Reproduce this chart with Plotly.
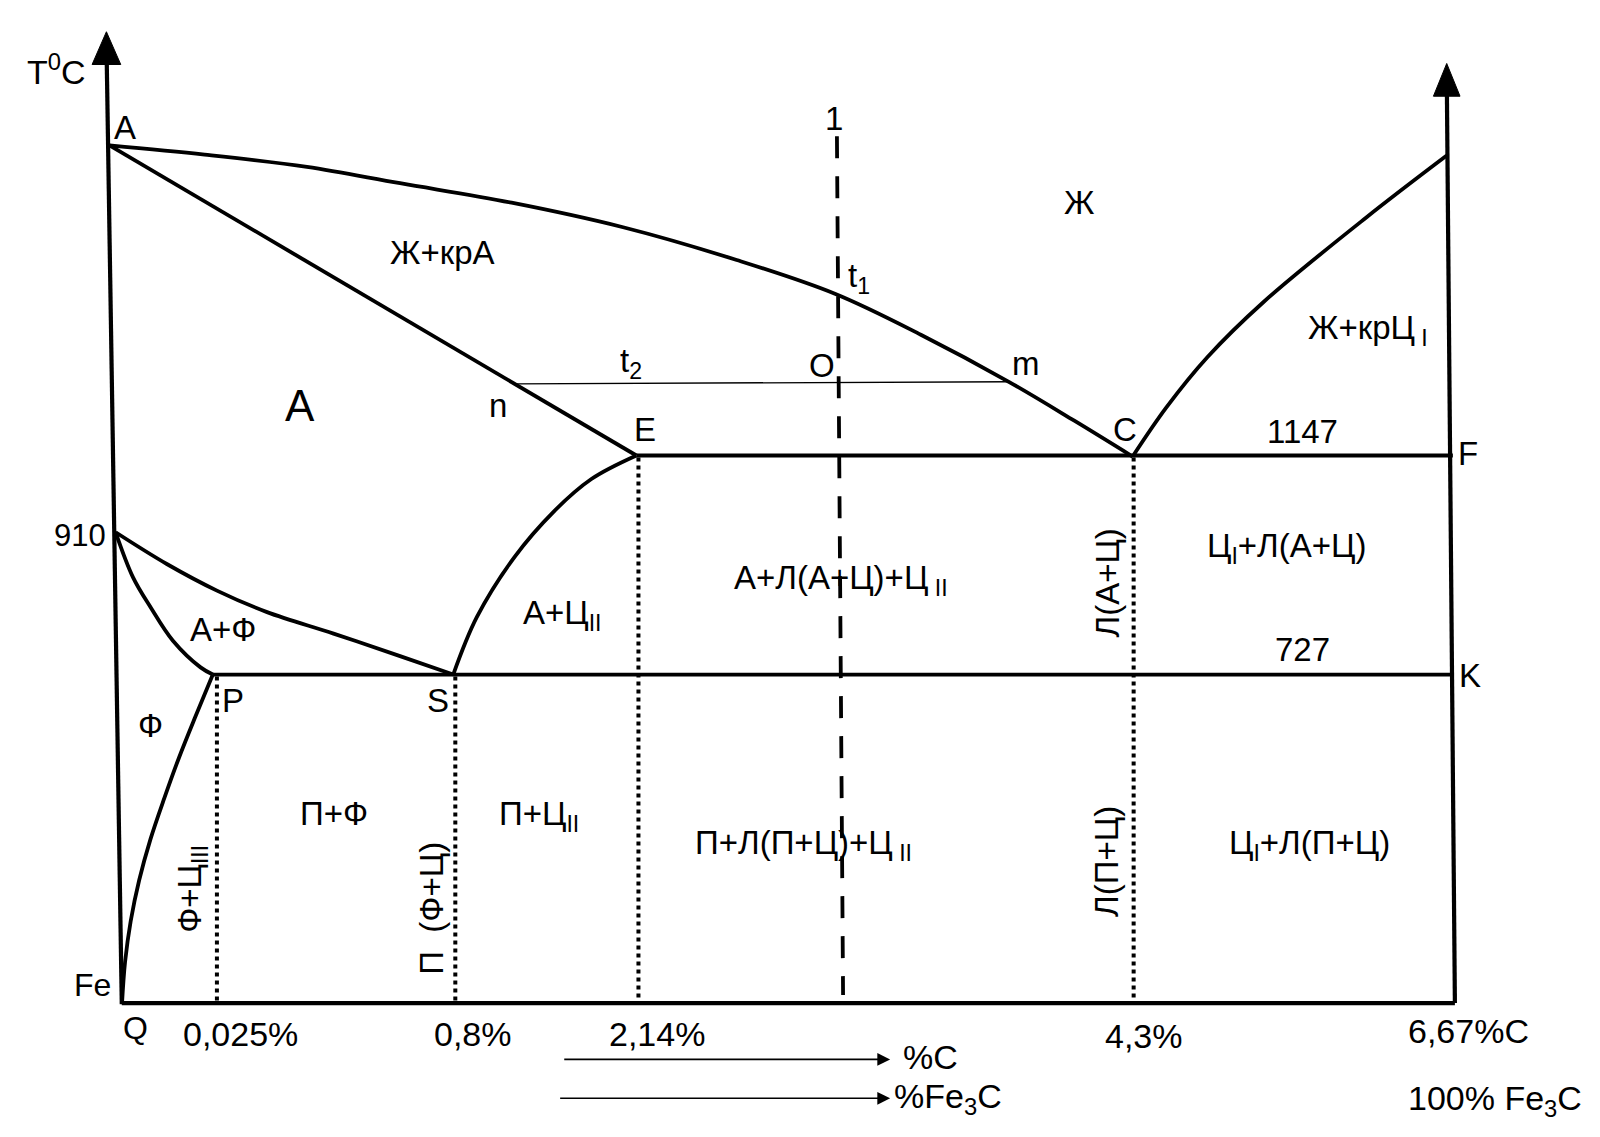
import plotly.graph_objects as go

# Fe-Fe3C diagram, schematic. Units are picture units: x to the right, y downward.
# (the diagram is not to scale, so the points are read straight off the drawing)

# liquidus A-t1-m-C
liq_AC_x = [107, 200, 300, 391, 500, 609, 720, 816, 900, 986, 1050, 1107]
liq_AC_y = [142, 151, 163, 179, 198, 222, 254, 287, 327, 373, 411, 446]

# liquidus C-D
liq_CD_x = [1107, 1140, 1180, 1235, 1336, 1414]
liq_CD_y = [446, 398, 349, 295, 212, 152]

# solidus A-n-E
sol_AE_x = [107, 622]
sol_AE_y = [142, 445]

# E-S
es_x = [443, 466, 503, 541, 578, 622]
es_y = [659, 603, 544, 500, 468, 445]

# G(910)-S
gs_x = [113, 163, 212, 261, 326, 391, 443]
gs_y = [520, 551, 577, 598, 619, 641, 659]

# G(910)-P
gp_x = [113, 130, 147, 169, 196, 208]
gp_y = [520, 564, 593, 626, 652, 659]

# P-Q
pq_x = [208, 191, 175, 160.5, 147, 136, 127.7, 122.2, 119.2]
pq_y = [659, 700, 740, 780, 820, 860, 900, 940, 981]

# horizontals: E-C-F 1147, P-S-K 727, Q-bottom
ecf_x = [622, 1420]
ecf_y = [445, 445]
psk_x = [208, 1420]
psk_y = [659, 659]
bottom_x = [119, 1422]
bottom_y = [980, 980]

# tie line n-O-m at t2
tie_x = [504, 986]
tie_y = [375, 373]

# axes (left: T, right: Fe3C)
left_axis_x = [104, 119]
left_axis_y = [40, 981]
right_axis_x = [1414, 1422]
right_axis_y = [70, 980]
left_head_x = [104, 90, 118, 104]
left_head_y = [31, 63, 63, 31]
right_head_x = [1414, 1401, 1427, 1414]
right_head_y = [62, 94, 94, 62]

# dotted verticals at P, S, E, C
dot_x = [212, 445, 624, 1108]
dot_top = [661, 661, 447, 447]
dot_bottom = [979, 979, 979, 979]

# alloy line 1
alloy_x = [818, 824]
alloy_y = [133, 972]

fig = go.Figure()


def add_line(xs, ys, width=3.8, dash=None):
    fig.add_trace(go.Scatter(
        x=xs, y=ys, mode='lines',
        line=dict(color='black', width=width, dash=dash, shape='spline', smoothing=1.0),
        hoverinfo='skip', showlegend=False))


add_line(liq_AC_x, liq_AC_y)
add_line(liq_CD_x, liq_CD_y)
add_line(sol_AE_x, sol_AE_y)
add_line(es_x, es_y)
add_line(gs_x, gs_y)
add_line(gp_x, gp_y)
add_line(pq_x, pq_y)
add_line(ecf_x, ecf_y)
add_line(psk_x, psk_y)
add_line(bottom_x, bottom_y, width=4.2)
add_line(tie_x, tie_y, width=1.4)
add_line(left_axis_x, left_axis_y, width=4.2)
add_line(right_axis_x, right_axis_y, width=4.2)
add_line(alloy_x, alloy_y, width=3.8, dash='22px,18px')

for i in range(len(dot_x)):
    add_line([dot_x[i], dot_x[i]], [dot_top[i], dot_bottom[i]], width=4, dash='4px,4px')

for hx, hy in [(left_head_x, left_head_y), (right_head_x, right_head_y)]:
    fig.add_trace(go.Scatter(
        x=hx, y=hy, mode='lines', fill='toself', fillcolor='black',
        line=dict(color='black', width=1), hoverinfo='skip', showlegend=False))

# text labels: (text, x, y, angle, size)
labels = [
    ('T<sup>0</sup>C', 55, 68, 0, 34),
    ('A', 122, 125, 0, 33),
    ('Ж+крА', 432, 247, 0, 33),
    ('Ж', 1055, 198, 0, 33),
    ('1', 815, 116, 0, 33),
    ('t<sub>1</sub>', 840, 272, 0, 33),
    ('t<sub>2</sub>', 617, 355, 0, 33),
    ('O', 803, 357, 0, 33),
    ('m', 1003, 355, 0, 33),
    ('A', 293, 396, 0, 44),
    ('n', 487, 396, 0, 33),
    ('E', 630, 420, 0, 33),
    ('C', 1100, 420, 0, 33),
    ('1147', 1273, 422, 0, 33),
    ('F', 1435, 443, 0, 33),
    ('Ж+крЦ<sub> I</sub>', 1337, 322, 0, 33),
    ('910', 78, 523, 0, 31),
    ('A+Ф', 218, 615, 0, 33),
    ('A+Ц<sub>II</sub>', 550, 601, 0, 33),
    ('A+Л(A+Ц)+Ц<sub> II</sub>', 822, 567, 0, 33),
    ('Л(A+Ц)', 1082, 570, -90, 33),
    ('Ц<sub>I</sub>+Л(A+Ц)', 1257, 535, 0, 33),
    ('727', 1273, 635, 0, 33),
    ('K', 1437, 660, 0, 33),
    ('P', 228, 684, 0, 33),
    ('S', 428, 684, 0, 33),
    ('Ф', 147, 709, 0, 33),
    ('П+Ф', 326, 795, 0, 33),
    ('П+Ц<sub>II</sub>', 527, 797, 0, 33),
    ('П+Л(П+Ц)+Ц<sub> II</sub>', 785, 826, 0, 33),
    ('Ц<sub>I</sub>+Л(П+Ц)', 1280, 826, 0, 33),
    ('Л(П+Ц)', 1082, 842, -90, 33),
    ('Ф+Ц<sub>III</sub>', 188, 868, -90, 33),
    ('П  (Ф+Ц)', 422, 887, -90, 33),
    ('Fe', 90, 962, 0, 32),
    ('Q', 132, 1004, 0, 32),
    ('0,025%', 235, 1010, 0, 34),
    ('0,8%', 462, 1010, 0, 34),
    ('2,14%', 642, 1010, 0, 34),
    ('4,3%', 1118, 1012, 0, 34),
    ('6,67%C', 1435, 1007, 0, 34),
    ('%C', 909, 1033, 0, 34),
    ('%Fe<sub>3</sub>C', 927, 1073, 0, 34),
    ('100% Fe<sub>3</sub>C', 1461, 1075, 0, 34),
]

for text, x, y, angle, size in labels:
    fig.add_annotation(x=x, y=y, text=text, showarrow=False, textangle=angle,
                       xanchor='center', yanchor='middle',
                       font=dict(family='Liberation Sans, Arial', size=size, color='black'))

# %C and %Fe3C arrows
arrow_start_x = [550, 546]
arrow_end_x = [870, 870]
arrow_y = [1035, 1073]
for i in range(len(arrow_y)):
    fig.add_annotation(x=arrow_end_x[i], y=arrow_y[i], ax=arrow_start_x[i], ay=arrow_y[i],
                       xref='x', yref='y', axref='x', ayref='y', text='',
                       showarrow=True, arrowhead=2, arrowsize=1.6, arrowwidth=1.6,
                       arrowcolor='black')

# the page keeps its 8px body margin, so the plot is a bit smaller and the ranges start past 0
fig.update_layout(
    width=1584, height=1121,
    margin=dict(l=0, r=0, t=0, b=0),
    paper_bgcolor='white', plot_bgcolor='white',
    xaxis=dict(range=[7.8, 1556], visible=False, fixedrange=True),
    yaxis=dict(range=[1103, 7.8], visible=False, fixedrange=True),
    showlegend=False,
)

fig.write_html("out.html")
